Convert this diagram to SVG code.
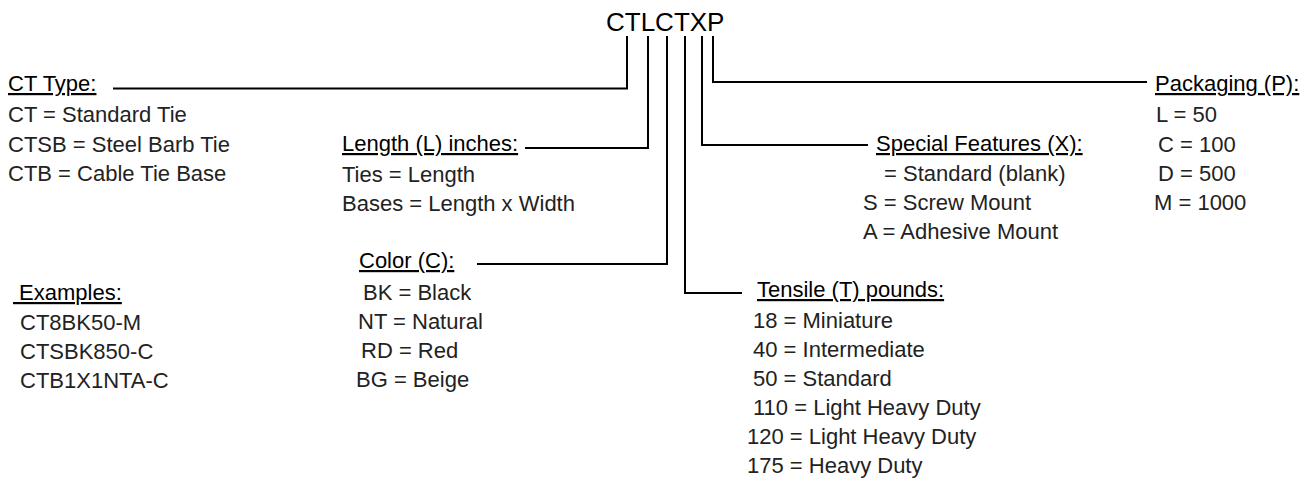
<svg xmlns="http://www.w3.org/2000/svg" width="1315" height="483" viewBox="0 0 1315 483">
<style>
text{font-family:"Liberation Sans",Arial,sans-serif;font-size:22px;fill:#222}
.title{font-size:26px;fill:#000}
.hd{fill:#000;text-decoration:underline;white-space:pre}
.conn{fill:none;stroke:#000;stroke-width:2}
</style>
<rect width="1315" height="483" fill="#fff"/>
<g id="title"><text class="title" x="606" y="31">CTLCTXP</text></g>
<g id="connectors">
<path class="conn" d="M627,36 V88.5 H113"/>
<path class="conn" d="M648,36 V148 H525"/>
<path class="conn" d="M667,36 V264 H477"/>
<path class="conn" d="M685,36 V293 H742"/>
<path class="conn" d="M702,36 V145 H868"/>
<path class="conn" d="M713,36 V82 H1147"/>
</g>
<g id="ct-type">
<text class="hd" x="8" y="91">CT Type:</text>
<text x="8" y="122">CT = Standard Tie</text>
<text x="8" y="152">CTSB = Steel Barb Tie</text>
<text x="8" y="181">CTB = Cable Tie Base</text>
</g>
<g id="length">
<text class="hd" x="342" y="151">Length (L) inches:</text>
<text x="342" y="182">Ties = Length</text>
<text x="342" y="211">Bases = Length x Width</text>
</g>
<g id="color">
<text class="hd" x="359" y="268">Color (C):</text>
<text x="363" y="300">BK = Black</text>
<text x="358" y="329">NT = Natural</text>
<text x="361" y="358">RD = Red</text>
<text x="356" y="387">BG = Beige</text>
</g>
<g id="tensile">
<text class="hd" x="757" y="297">Tensile (T) pounds:</text>
<text x="753" y="328">18 = Miniature</text>
<text x="753" y="357">40 = Intermediate</text>
<text x="753" y="386">50 = Standard</text>
<text x="753" y="415">110 = Light Heavy Duty</text>
<text x="747" y="444">120 = Light Heavy Duty</text>
<text x="747" y="473">175 = Heavy Duty</text>
</g>
<g id="special">
<text class="hd" x="876" y="151">Special Features (X):</text>
<text x="884" y="181">= Standard (blank)</text>
<text x="863" y="210">S = Screw Mount</text>
<text x="863" y="239">A = Adhesive Mount</text>
</g>
<g id="packaging">
<text class="hd" x="1155" y="91">Packaging (P):</text>
<text x="1156" y="122">L = 50</text>
<text x="1158" y="152">C = 100</text>
<text x="1158" y="181">D = 500</text>
<text x="1154" y="210">M = 1000</text>
</g>
<g id="examples">
<text class="hd" x="13" y="300"> Examples:</text>
<text x="20" y="330">CT8BK50-M</text>
<text x="20" y="359">CTSBK850-C</text>
<text x="20" y="388">CTB1X1NTA-C</text>
</g>
</svg>
